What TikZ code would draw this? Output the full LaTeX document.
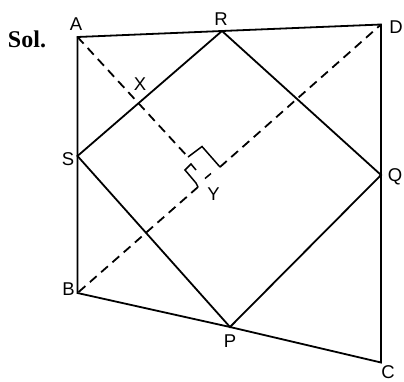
\documentclass[tikz,border=0pt]{standalone}
\usepackage{fontspec}
\setmainfont{Liberation Sans}
\newfontfamily\solfont{Liberation Serif}
\begin{document}
\begin{tikzpicture}[x=1pt,y=-1pt,line width=1.8pt,line join=miter,
  lbl/.style={font=\fontsize{18.5}{21}\selectfont,inner sep=0pt,anchor=base},
  dsh/.style={dash pattern=on 9pt off 6pt}]
\useasboundingbox (0,0) rectangle (404,381);
% vertices
\coordinate (A) at (77.5,37);
\coordinate (D) at (381,24.5);
\coordinate (C) at (381,362.5);
\coordinate (B) at (77.5,293);
\coordinate (R) at (222,31);
\coordinate (S) at (77.5,156);
\coordinate (Q) at (381,175);
\coordinate (P) at (230,327);
% right-angle marks and feet
\coordinate (F1) at (188,157);
\coordinate (M1) at (202,146.5);
\coordinate (F2) at (220,167);
\coordinate (N1) at (196,170);
\coordinate (N2) at (191,164);
\coordinate (N3) at (185,170);
\coordinate (N4) at (196,183);
\coordinate (F3) at (198,187);
\coordinate (T1) at (205,178.5);
\coordinate (T2) at (211,173.5);
% outline
\draw (A) -- (R) -- (D) -- (C) -- (P) -- (B) -- (S) -- cycle;
% inner quadrilateral
\draw (R) -- (Q) -- (P) -- (S) -- cycle;
% dashed lines
\draw[dsh] (A) -- (F1);
\draw[dsh] (F2) -- (D);
\draw[dsh] (F3) -- (B);
% right-angle marks
\draw[line width=1.5pt] (F1) -- (M1) -- (F2);
\draw[line width=1.5pt] (N1) -- (N2) -- (N3) -- (N4) -- (F3);
\draw[line width=1.5pt] (T1) -- (T2);
% labels
\node[lbl] (lA) at (76,30) {A};
\node[lbl] (lR) at (221,25) {R};
\node[lbl] (lD) at (396,33) {D};
\node[lbl] (lS) at (68,165) {S};
\node[lbl] (lQ) at (395,181.5) {Q};
\node[lbl] (lB) at (68.5,295) {B};
\node[lbl] (lP) at (230,347) {P};
\node[lbl] (lC) at (388,378) {C};
\node[lbl] (lX) at (140,90) {X};
\node[lbl] (lY) at (213.5,200) {Y};
\node[inner sep=0pt,anchor=base,font=\solfont\bfseries\fontsize{24}{28}\selectfont] (sol) at (27,47) {Sol.};
\end{tikzpicture}
\end{document}
